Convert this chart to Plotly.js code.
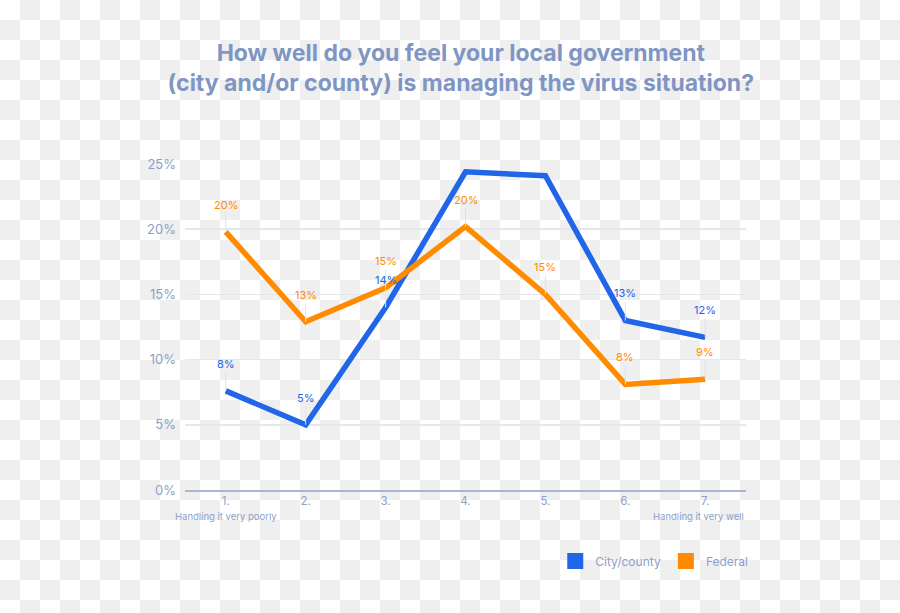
<!DOCTYPE html>
<html>
<head>
<meta charset="utf-8">
<script src="https://cdn.plot.ly/plotly-3.0.1.min.js"></script>
<style>
  html, body { margin: 0; padding: 0; background: #ffffff; }
  #chart { width: 900px; height: 613px; }
</style>
</head>
<body>
<div id="chart"></div>
<script>
// Data
const categories = [1, 2, 3, 4, 5, 6, 7];
const tickLabels = ["1.", "2.", "3.", "4.", "5.", "6.", "7."];
const cityCounty = [7.6, 5.0, 14.0, 24.4, 24.1, 13.0, 11.7];
const federal = [19.8, 12.9, 15.5, 20.2, 15.0, 8.1, 8.5];
const cityLabels = ["8%", "5%", "14%", "", "", "13%", "12%"];
const federalLabels = ["20%", "13%", "15%", "20%", "15%", "8%", "9%"];
const yTickVals = [0, 5, 10, 15, 20, 25];
const yTickText = ["0%", "5%", "10%", "15%", "20%", "25%"];
const seriesNames = ["City/county", "Federal"];
const endLabels = ["Handling it very poorly", "Handling it very well"];

const BLUE = "#2166e8";
const ORANGE = "#ff8c00";
const TEXT = "#8e9fca";
const FONT = "Inter, 'Noto Sans', sans-serif";

// transparent-style checkerboard backdrop (decoration only)
const W = 900, H = 613;
const M = { l: 185, r: 154, t: 164, b: 123 };
const checkerSvg =
  "<svg xmlns='http://www.w3.org/2000/svg' width='" + W + "' height='" + H + "'>" +
  "<defs><pattern id='p' width='40' height='40' patternUnits='userSpaceOnUse'>" +
  "<rect width='40' height='40' fill='#ffffff'/>" +
  "<rect x='20' y='0' width='20' height='20' fill='#efefef'/>" +
  "<rect x='0' y='20' width='20' height='20' fill='#efefef'/>" +
  "</pattern></defs><rect width='" + W + "' height='" + H + "' fill='url(#p)'/></svg>";
const checkerSrc = "data:image/svg+xml;base64," + btoa(checkerSvg);
const pw = W - M.l - M.r, ph = H - M.t - M.b;

const traces = [
  { x: categories, y: cityCounty, type: "scatter", mode: "lines", name: seriesNames[0],
    line: { color: BLUE, width: 5.5 }, showlegend: false, cliponaxis: false, hoverinfo: "skip" },
  { x: categories, y: federal, type: "scatter", mode: "lines", name: seriesNames[1],
    line: { color: ORANGE, width: 5.5 }, showlegend: false, cliponaxis: false, hoverinfo: "skip" },
  { x: [null], y: [null], type: "scatter", mode: "markers", name: seriesNames[0],
    marker: { symbol: "square", size: 16, color: BLUE } },
  { x: [null], y: [null], type: "scatter", mode: "markers", name: seriesNames[1],
    marker: { symbol: "square", size: 16, color: ORANGE } }
];

const annotations = [];
function addLabels(vals, labels, color) {
  vals.forEach((v, i) => {
    if (!labels[i]) return;
    annotations.push({
      x: categories[i], y: v, xref: "x", yref: "y",
      text: labels[i], showarrow: true, arrowhead: 0, arrowwidth: 1,
      arrowcolor: "#dde3ee", ax: 0, ay: -27, standoff: 0,
      font: { family: FONT, size: 11, color: color }
    });
  });
}
addLabels(federal, federalLabels, ORANGE);
addLabels(cityCounty, cityLabels, BLUE);

annotations.push({
  x: categories[0], y: 0, xref: "x", yref: "paper", yanchor: "top", xanchor: "center",
  yshift: -19, text: endLabels[0], showarrow: false,
  font: { family: FONT, size: 9.5, color: TEXT }
});
annotations.push({
  x: 1, y: 0, xref: "paper", yref: "paper", yanchor: "top", xanchor: "right",
  yshift: -19, text: endLabels[1], showarrow: false,
  font: { family: FONT, size: 9.5, color: TEXT }
});

const layout = {
  width: W, height: H,
  paper_bgcolor: "#ffffff",
  plot_bgcolor: "rgba(0,0,0,0)",
  margin: M,
  font: { family: FONT, color: TEXT },
  images: [{
    source: checkerSrc, xref: "paper", yref: "paper",
    x: -M.l / pw, y: 1 + M.t / ph, sizex: W / pw, sizey: H / ph,
    xanchor: "left", yanchor: "top", sizing: "stretch", layer: "below"
  }],
  title: {
    text: "How well do you feel your local government<br>(city and/or county) is managing the virus situation?",
    font: { family: FONT, size: 23, color: "#7f95c4", weight: "bold" },
    x: 0.512, xanchor: "center", y: 0.9, yanchor: "top", yref: "container"
  },
  xaxis: {
    range: [0.49, 7.51], tickmode: "array", tickvals: categories, ticktext: tickLabels,
    showgrid: false, zeroline: false, showline: true, linecolor: "#a9b6d4", linewidth: 1.5,
    ticks: "", tickfont: { family: FONT, size: 11.5, color: TEXT }
  },
  yaxis: {
    range: [0, 25], tickmode: "array", tickvals: yTickVals, ticktext: yTickText,
    showgrid: true, gridcolor: "#e3e7ef", gridwidth: 1.5, zeroline: false, showline: false,
    ticks: "", ticklabelstandoff: 8, tickfont: { family: FONT, size: 13, color: TEXT }
  },
  legend: {
    orientation: "h", x: 0.66, xanchor: "left", y: -0.218, yanchor: "middle",
    font: { family: FONT, size: 12, color: TEXT }, bgcolor: "rgba(0,0,0,0)"
  },
  annotations: annotations,
  showlegend: true
};

Plotly.newPlot("chart", traces, layout, { displayModeBar: false, staticPlot: true });
</script>
</body>
</html>
